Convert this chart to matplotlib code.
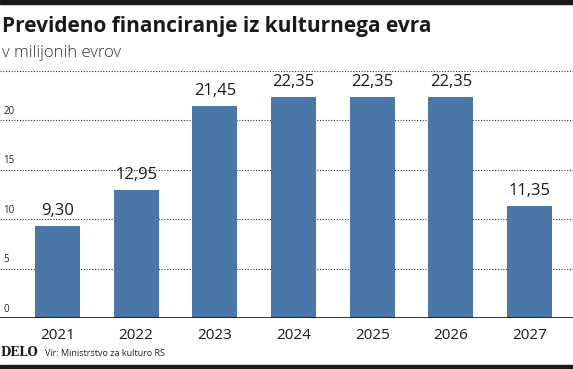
import matplotlib.pyplot as plt

years = ["2021", "2022", "2023", "2024", "2025", "2026", "2027"]
values = [9.30, 12.95, 21.45, 22.35, 22.35, 22.35, 11.35]
yticks = [0, 5, 10, 15, 20, 25]
ytick_labels = ["0", "5", "10", "15", "20", ""]

BAR = "#4a77a8"
FONT = ["Open Sans", "DejaVu Sans"]

fig = plt.figure(figsize=(5.73, 3.69), dpi=100)
ax = fig.add_axes([0, 1 - 318 / 369, 1, (318 - 71) / 369])

x = list(range(len(years)))
ax.bar(x, values, width=0.572, color=BAR, zorder=3)
for xi, v in zip(x, values):
    ax.text(xi, v + 0.7, f"{v:.2f}".replace(".", ","), ha="center", va="bottom",
            fontsize=12, family=FONT, color="#1a1a1a")

ax.set_xlim(-0.731, 6.553)
ax.set_ylim(0, 25)
ax.set_yticks(yticks)
ax.set_yticklabels([])
for t, lab in zip(yticks, ytick_labels):
    ax.axhline(t, color="#333333", lw=0.8, ls=(0, (1, 1.5)), zorder=1)
    ax.text(-0.69, t + 0.35, lab, ha="left", va="bottom", fontsize=7,
            family=FONT, color="#222222")
ax.axhline(0, color="#111111", lw=1.2, zorder=4)

ax.set_xticks(x)
ax.set_xticklabels(years, fontsize=11, family=FONT, color="#1a1a1a")
ax.tick_params(axis="x", length=0, pad=7)
ax.tick_params(axis="y", length=0)
for s in ax.spines.values():
    s.set_visible(False)
ax.set_facecolor("none")

fig.text(0.003, 1 - 32 / 369, "Prevideno financiranje iz kulturnega evra",
         fontsize=15, fontweight="bold", family=FONT, color="#1a1a1a", va="baseline")
fig.text(0.003, 1 - 57 / 369, "v milijonih evrov", fontsize=12,
         fontweight="light", family=FONT, color="#333333", va="baseline")

fig.text(0.0, 1 - 356 / 369, "DELO", fontsize=8.5, fontweight="bold",
         family="DejaVu Serif", color="#1a1a1a", va="baseline")
fig.text(0.079, 1 - 356 / 369, "Vir: Ministrstvo za kulturo RS", fontsize=6.5,
         family=FONT, color="#222222", va="baseline")

fig.patches.append(plt.Rectangle((0, 1 - 4 / 369), 1, 4 / 369, transform=fig.transFigure,
                                 color="#1a1a1a", zorder=0))
fig.patches.append(plt.Rectangle((0, 0), 1, 4 / 369, transform=fig.transFigure,
                                 color="#1a1a1a", zorder=0))

fig.savefig("out.png", dpi=100)
